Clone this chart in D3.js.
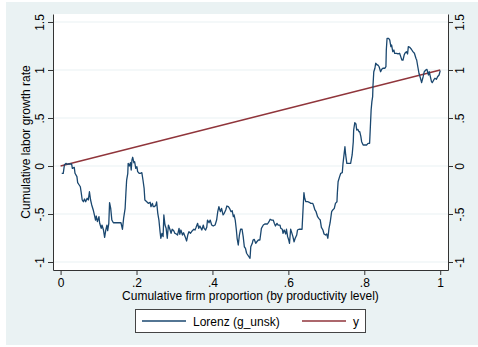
<!DOCTYPE html>
<html>
<head>
<meta charset="utf-8">
<script src="https://cdn.jsdelivr.net/npm/d3@7/dist/d3.min.js"></script>
<style>
  html, body { margin: 0; padding: 0; background: #ffffff; }
  svg { display: block; }
  text { font-family: "Liberation Sans", Arial, Helvetica, sans-serif; fill: #000; }
</style>
</head>
<body>
<svg id="chart" width="478" height="347"></svg>
<script>
// Cumulative firm proportion (x) and cumulative labor growth rate (Lorenz, g_unsk)
const lorenzX = [
  0.003, 0.007, 0.010, 0.014, 0.017, 0.021, 0.026, 0.029, 0.031, 0.036,
  0.038, 0.043, 0.045, 0.049, 0.052, 0.054, 0.057, 0.060, 0.063, 0.066,
  0.070, 0.073, 0.076, 0.079, 0.082, 0.086, 0.089, 0.092, 0.094, 0.097,
  0.101, 0.103, 0.107, 0.109, 0.113, 0.116, 0.119, 0.122, 0.124, 0.127,
  0.129, 0.132, 0.135, 0.139, 0.143, 0.152, 0.159, 0.163, 0.166, 0.170,
  0.172, 0.174, 0.177, 0.178, 0.181, 0.184, 0.186, 0.188, 0.190, 0.193,
  0.195, 0.198, 0.201, 0.203, 0.207, 0.210, 0.214, 0.217, 0.220, 0.222,
  0.227, 0.231, 0.236, 0.238, 0.242, 0.244, 0.247, 0.251, 0.253, 0.256,
  0.259, 0.262, 0.264, 0.267, 0.270, 0.272, 0.275, 0.278, 0.281, 0.284,
  0.287, 0.291, 0.294, 0.298, 0.301, 0.305, 0.308, 0.312, 0.314, 0.317,
  0.321, 0.324, 0.328, 0.332, 0.335, 0.338, 0.342, 0.347, 0.351, 0.354,
  0.357, 0.361, 0.364, 0.367, 0.372, 0.376, 0.378, 0.382, 0.385, 0.387,
  0.391, 0.394, 0.398, 0.402, 0.407, 0.411, 0.414, 0.417, 0.421, 0.424,
  0.428, 0.431, 0.435, 0.438, 0.442, 0.445, 0.449, 0.452, 0.455, 0.457,
  0.460, 0.463, 0.465, 0.468, 0.471, 0.474, 0.478, 0.481, 0.484, 0.487,
  0.490, 0.493, 0.496, 0.499, 0.501, 0.505, 0.507, 0.510, 0.514, 0.517,
  0.521, 0.525, 0.529, 0.534, 0.538, 0.545, 0.549, 0.552, 0.556, 0.560,
  0.563, 0.566, 0.570, 0.573, 0.578, 0.580, 0.584, 0.586, 0.589, 0.593,
  0.595, 0.598, 0.601, 0.603, 0.606, 0.608, 0.612, 0.615, 0.618, 0.622,
  0.624, 0.628, 0.633, 0.636, 0.639, 0.641, 0.643, 0.646, 0.651, 0.655,
  0.659, 0.664, 0.666, 0.670, 0.673, 0.677, 0.680, 0.684, 0.687, 0.691,
  0.694, 0.698, 0.701, 0.704, 0.707, 0.710, 0.714, 0.717, 0.721, 0.724,
  0.728, 0.729, 0.731, 0.735, 0.738, 0.742, 0.744, 0.747, 0.749, 0.751,
  0.754, 0.759, 0.764, 0.768, 0.771, 0.772, 0.775, 0.778, 0.780, 0.783,
  0.786, 0.788, 0.791, 0.793, 0.797, 0.801, 0.806, 0.810, 0.814, 0.816,
  0.818, 0.820, 0.822, 0.823, 0.825, 0.828, 0.830, 0.834, 0.836, 0.839,
  0.843, 0.846, 0.849, 0.854, 0.857, 0.858, 0.860, 0.864, 0.867, 0.870,
  0.872, 0.875, 0.878, 0.880, 0.885, 0.889, 0.893, 0.896, 0.899, 0.902,
  0.905, 0.907, 0.911, 0.914, 0.916, 0.920, 0.924, 0.928, 0.932, 0.936,
  0.938, 0.941, 0.944, 0.948, 0.951, 0.955, 0.958, 0.962, 0.965, 0.969,
  0.971, 0.974, 0.977, 0.979, 0.983, 0.986, 0.990, 0.993, 0.997, 1.000
];
const lorenzY = [
  -0.076, -0.076, 0.010, 0.028, 0.018, 0.021, 0.021, 0.021, -0.024, -0.014,
  -0.076, -0.111, -0.174, -0.198, -0.216, -0.268, -0.354, -0.372, -0.344, -0.372,
  -0.336, -0.354, -0.268, -0.354, -0.406, -0.458, -0.510, -0.563, -0.521, -0.580,
  -0.528, -0.597, -0.649, -0.615, -0.667, -0.743, -0.667, -0.615, -0.674, -0.597,
  -0.382, -0.441, -0.563, -0.591, -0.591, -0.591, -0.591, -0.659, -0.545, -0.441,
  -0.284, -0.146, -0.076, 0.028, 0.000, 0.034, -0.042, 0.063, 0.091, 0.034,
  0.045, -0.024, -0.007, -0.059, -0.076, -0.076, -0.070, -0.146, -0.232, -0.354,
  -0.372, -0.389, -0.378, -0.424, -0.389, -0.424, -0.424, -0.406, -0.375, -0.493,
  -0.563, -0.684, -0.753, -0.701, -0.736, -0.510, -0.615, -0.649, -0.753, -0.615,
  -0.649, -0.701, -0.659, -0.674, -0.701, -0.708, -0.719, -0.649, -0.711, -0.667,
  -0.719, -0.695, -0.736, -0.781, -0.719, -0.684, -0.701, -0.674, -0.659, -0.667,
  -0.639, -0.597, -0.649, -0.625, -0.667, -0.615, -0.649, -0.667, -0.639, -0.563,
  -0.591, -0.563, -0.615, -0.625, -0.615, -0.563, -0.476, -0.424, -0.476, -0.441,
  -0.510, -0.493, -0.458, -0.417, -0.424, -0.441, -0.476, -0.466, -0.528, -0.510,
  -0.563, -0.667, -0.753, -0.823, -0.719, -0.659, -0.659, -0.736, -0.841, -0.857,
  -0.909, -0.927, -0.945, -0.961, -0.841, -0.805, -0.771, -0.764, -0.805, -0.789,
  -0.771, -0.771, -0.649, -0.615, -0.604, -0.604, -0.580, -0.555, -0.563, -0.563,
  -0.597, -0.625, -0.597, -0.615, -0.615, -0.649, -0.659, -0.701, -0.667, -0.708,
  -0.659, -0.736, -0.771, -0.805, -0.659, -0.684, -0.736, -0.789, -0.753, -0.719,
  -0.667, -0.659, -0.659, -0.659, -0.424, -0.278, -0.336, -0.372, -0.372, -0.378,
  -0.389, -0.389, -0.406, -0.458, -0.476, -0.528, -0.545, -0.563, -0.639, -0.667,
  -0.708, -0.719, -0.708, -0.753, -0.649, -0.591, -0.476, -0.458, -0.441, -0.389,
  -0.372, -0.284, -0.164, -0.111, -0.076, -0.070, 0.028, 0.132, 0.201, 0.115,
  0.028, 0.028, 0.028, 0.115, 0.253, 0.375, 0.451, 0.438, 0.375, 0.382,
  0.357, 0.357, 0.305, 0.253, 0.219, 0.219, 0.219, 0.236, 0.236, 0.409,
  0.583, 0.670, 0.722, 0.844, 0.982, 1.018, 1.070, 1.052, 1.052, 1.034,
  0.982, 1.007, 1.018, 1.018, 1.034, 1.208, 1.330, 1.330, 1.313, 1.243,
  1.260, 1.191, 1.208, 1.174, 1.174, 1.167, 1.174, 1.139, 1.104, 1.104,
  1.156, 1.174, 1.191, 1.167, 1.243, 1.236, 1.216, 1.191, 1.174, 1.122,
  1.104, 1.034, 0.966, 0.914, 0.868, 0.930, 0.982, 1.000, 1.007, 0.948,
  0.982, 0.930, 0.878, 0.868, 0.896, 0.914, 0.903, 0.930, 0.948, 0.993
];
// 45-degree reference line, y = x
const refX = [0, 1];
const refY = [0, 1];

const xTicks = [0, 0.2, 0.4, 0.6, 0.8, 1];
const yTicks = [-1, -0.5, 0, 0.5, 1, 1.5];
// Stata-style labels: drop the leading zero (".2", "-.5")
const tickLabel = v => String(v).replace(/^(-?)0\./, "$1.");

const seriesNames = ["Lorenz (g_unsk)", "y"];
const seriesColors = ["#1a476f", "#90353b"];

const svg = d3.select("#chart");
const W = 478, H = 347;
const plot = { left: 53, right: 448, top: 14, bottom: 270 };

// outer graph region
svg.append("rect").attr("x", 6).attr("y", 2).attr("width", W - 6).attr("height", H - 4)
  .attr("fill", "#eaf2f3");
// plot region
svg.append("rect").attr("x", plot.left).attr("y", plot.top)
  .attr("width", plot.right - plot.left).attr("height", plot.bottom - plot.top)
  .attr("fill", "#ffffff");

const x = d3.scaleLinear()
  .domain([-0.02, 1.0205])
  .range([plot.left, plot.right]);
const y = d3.scaleLinear()
  .domain([-1.0833, 1.5833])
  .range([plot.bottom, plot.top]);

// horizontal grid lines
svg.append("g").selectAll("line").data(yTicks).join("line")
  .attr("x1", plot.left).attr("x2", plot.right)
  .attr("y1", d => y(d)).attr("y2", d => y(d))
  .attr("stroke", "#eaf2f3").attr("stroke-width", 1.2);

const axisColor = "#333";
function styleAxis(g) {
  g.select(".domain").attr("stroke", axisColor).attr("stroke-width", 1);
  g.selectAll(".tick line").attr("stroke", axisColor).attr("stroke-width", 1);
  g.selectAll("text").style("font-size", "12px")
    .style("font-family", '"Liberation Sans", Arial, sans-serif').attr("fill", "#000");
}

// bottom axis
const gx = svg.append("g").attr("transform", `translate(0,${plot.bottom})`)
  .call(d3.axisBottom(x).tickValues(xTicks).tickFormat(tickLabel).tickSizeInner(5).tickSizeOuter(0).tickPadding(3));
styleAxis(gx);

// left axis with rotated labels
const gyl = svg.append("g").attr("transform", `translate(${plot.left},0)`)
  .call(d3.axisLeft(y).tickValues(yTicks).tickFormat(tickLabel).tickSizeInner(5).tickSizeOuter(0));
styleAxis(gyl);
gyl.selectAll(".tick text")
  .attr("x", 0).attr("dy", 0)
  .attr("text-anchor", "middle")
  .attr("transform", "translate(-9,0) rotate(-90)");

// right axis with rotated labels
const gyr = svg.append("g").attr("transform", `translate(${plot.right},0)`)
  .call(d3.axisRight(y).tickValues(yTicks).tickFormat(tickLabel).tickSizeInner(5).tickSizeOuter(0));
styleAxis(gyr);
gyr.selectAll(".tick text")
  .attr("x", 0).attr("dy", 0)
  .attr("text-anchor", "middle")
  .attr("transform", "translate(16,0) rotate(-90)");

// axis titles
svg.append("text")
  .attr("transform", `translate(30,${(plot.top + plot.bottom) / 2}) rotate(-90)`)
  .attr("text-anchor", "middle").style("font-size", "12px")
  .text("Cumulative labor growth rate");
svg.append("text")
  .attr("x", (plot.left + plot.right) / 2).attr("y", 300)
  .attr("text-anchor", "middle").style("font-size", "12px")
  .text("Cumulative firm proportion (by productivity level)");

// lines
const lorenzPts = lorenzX.map((v, i) => [v, lorenzY[i]]);
const refPts = refX.map((v, i) => [v, refY[i]]);
const line = d3.line().x(d => x(d[0])).y(d => y(d[1]));

svg.append("path").datum(refPts).attr("d", line)
  .attr("fill", "none").attr("stroke", seriesColors[1]).attr("stroke-width", 1.3);
svg.append("path").datum(lorenzPts).attr("d", line)
  .attr("fill", "none").attr("stroke", seriesColors[0]).attr("stroke-width", 1.3)
  .attr("stroke-linejoin", "round");

// legend
const legend = svg.append("g");
legend.append("rect").attr("x", 135.5).attr("y", 309.5).attr("width", 230).attr("height", 23)
  .attr("fill", "#fff").attr("stroke", "#444").attr("stroke-width", 1);
const legendItems = [
  { name: seriesNames[0], color: seriesColors[0], x1: 142, x2: 186, tx: 193 },
  { name: seriesNames[1], color: seriesColors[1], x1: 302, x2: 346, tx: 353 }
];
legendItems.forEach(it => {
  legend.append("line").attr("x1", it.x1).attr("x2", it.x2).attr("y1", 321).attr("y2", 321)
    .attr("stroke", it.color).attr("stroke-width", 1.3);
  legend.append("text").attr("x", it.tx).attr("y", 325.5).style("font-size", "12px").text(it.name);
});
</script>
</body>
</html>
